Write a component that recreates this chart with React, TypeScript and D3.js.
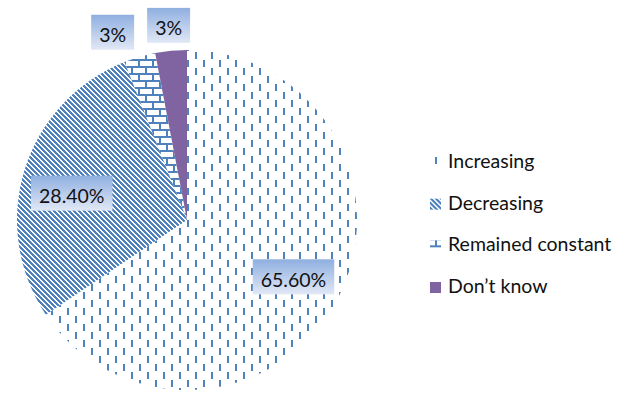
import React, { useEffect, useRef } from "react";
import * as d3 from "d3";

const categories = ["Increasing", "Decreasing", "Remained constant", "Don\u2019t know"];
const values = [65.6, 28.4, 3, 3];
const labels = ["65.60%", "28.40%", "3%", "3%"];

const W = 631;
const H = 396;
const BLUE = "#4f81bd";
const PURPLE = "#8064a2";
const FONT = "Lato, 'Noto Sans', sans-serif";

function addPatterns(defs: any, suffix: string, ox: number, oy: number) {
  // dashed vertical
  const inc = defs.append("pattern").attr("id", "inc" + suffix).attr("patternUnits", "userSpaceOnUse")
    .attr("x", ox).attr("y", oy).attr("width", 16).attr("height", 16);
  inc.append("rect").attr("x", 0).attr("y", 0).attr("width", 2).attr("height", 7).attr("fill", BLUE);
  inc.append("rect").attr("x", 8).attr("y", 8).attr("width", 2).attr("height", 7).attr("fill", BLUE);
  // downward diagonal (staircase)
  const P = 5;
  const dec = defs.append("pattern").attr("id", "dec" + suffix).attr("patternUnits", "userSpaceOnUse")
    .attr("x", ox).attr("y", oy).attr("width", P).attr("height", P);
  for (let row = 0; row < P; row++) {
    for (let k = 0; k < 3; k++) {
      const x = (row + k) % P;
      dec.append("rect").attr("x", x).attr("y", row).attr("width", 1).attr("height", 1).attr("fill", BLUE);
    }
  }
  // horizontal brick
  const br = defs.append("pattern").attr("id", "brick" + suffix).attr("patternUnits", "userSpaceOnUse")
    .attr("x", ox).attr("y", oy).attr("width", 14).attr("height", 14);
  br.append("rect").attr("x", 0).attr("y", 0).attr("width", 14).attr("height", 2).attr("fill", BLUE);
  br.append("rect").attr("x", 0).attr("y", 7).attr("width", 14).attr("height", 2).attr("fill", BLUE);
  br.append("rect").attr("x", 0).attr("y", 2).attr("width", 2).attr("height", 5).attr("fill", BLUE);
  br.append("rect").attr("x", 7).attr("y", 9).attr("width", 2).attr("height", 5).attr("fill", BLUE);
}

export default function App() {
  const ref = useRef<SVGSVGElement | null>(null);

  useEffect(() => {
    const svg = d3.select(ref.current);
    svg.selectAll("*").remove();
    svg.append("rect").attr("width", W).attr("height", H).attr("fill", "#ffffff");
    const defs = svg.append("defs");
    addPatterns(defs, "", 0, 0);

    const grad = defs.append("linearGradient").attr("id", "lblGrad")
      .attr("x1", 0).attr("y1", 0).attr("x2", 0).attr("y2", 1);
    grad.append("stop").attr("offset", "0%").attr("stop-color", "#8fafe0");
    grad.append("stop").attr("offset", "100%").attr("stop-color", "#e1e8f6");

    const fills = ["url(#inc)", "url(#dec)", "url(#brick)", PURPLE];

    const cx = 187, cy = 220, r = 170;
    const pie = d3.pie<number>().sort(null).value((d) => d);
    const arcs = pie(values);
    const arc = d3.arc<d3.PieArcDatum<number>>().innerRadius(0).outerRadius(r);

    const g = svg.append("g").attr("transform", `translate(${cx},${cy})`);
    g.selectAll("path.slice").data(arcs).enter().append("path")
      .attr("class", "slice")
      .attr("d", arc as any)
      .attr("fill", (_d, i) => fills[i]);

    // label positions
    const inner = d3.arc<d3.PieArcDatum<number>>().innerRadius(0).outerRadius(r * 1.42);
    const outer = d3.arc<d3.PieArcDatum<number>>().innerRadius(r * 1.15).outerRadius(r * 1.15);
    const boxH = 35;
    const fontSize = 19.5;

    const lbls = arcs.map((a, i) => {
      const isOut = a.endAngle - a.startAngle < 0.4;
      const c = isOut ? outer.centroid(a) : inner.centroid(a);
      // Excel's best-fit nudges the mid-left inside label slightly downward
      const nudgeY = !isOut && c[0] < 0 ? 9 : 0;
      return { i, x: c[0], y: c[1] + nudgeY, out: isOut, w: 0 };
    });

    const lg = g.append("g");
    const items = lg.selectAll("g.lbl").data(lbls).enter().append("g").attr("class", "lbl");
    const rects = items.append("rect").attr("fill", "url(#lblGrad)");
    const texts = items.append("text")
      .text((d) => labels[d.i])
      .attr("font-family", FONT)
      .attr("font-size", fontSize)
      .attr("fill", "#111111")
      .attr("text-anchor", "middle");
    texts.each(function (d: any) {
      d.w = (this as SVGTextElement).getComputedTextLength() + 16;
    });

    // resolve overlap among outside labels: push left ones further left
    const outs = lbls.filter((d) => d.out).sort((a, b) => b.x - a.x);
    for (let k = 1; k < outs.length; k++) {
      const right = outs[k - 1];
      const cur = outs[k];
      const maxRight = right.x - right.w / 2 - 13;
      if (cur.x + cur.w / 2 > maxRight) cur.x = maxRight - cur.w / 2;
    }

    rects
      .attr("x", (d) => d.x - d.w / 2)
      .attr("y", (d) => d.y - boxH / 2)
      .attr("width", (d) => d.w)
      .attr("height", boxH);
    texts.attr("x", (d) => d.x).attr("y", (d) => d.y + 10);

    // legend
    const legX = 430;
    const ly = d3.scaleLinear().domain([0, categories.length - 1]).range([168, 293]);
    const leg = svg.append("g");
    const legFills = [`url(#incL0)`, `url(#decL1)`, `url(#brickL2)`, PURPLE];
    categories.forEach((cat, i) => {
      const base = ly(i);
      const my = base - 11;
      addPatterns(defs, "L" + i, legX + 5, i === 2 ? my - 2 : my);
      leg.append("rect")
        .attr("x", legX).attr("y", my).attr("width", 11).attr("height", 11)
        .attr("fill", legFills[i]);
      leg.append("text")
        .attr("x", 448).attr("y", base)
        .attr("font-family", FONT).attr("font-size", fontSize).attr("fill", "#111111")
        .text(cat);
    });
  }, []);

  return (
    <div style={{ position: "fixed", left: 0, top: 0 }}>
      <svg ref={ref} width={W} height={H} style={{ display: "block" }} />
    </div>
  );
}
